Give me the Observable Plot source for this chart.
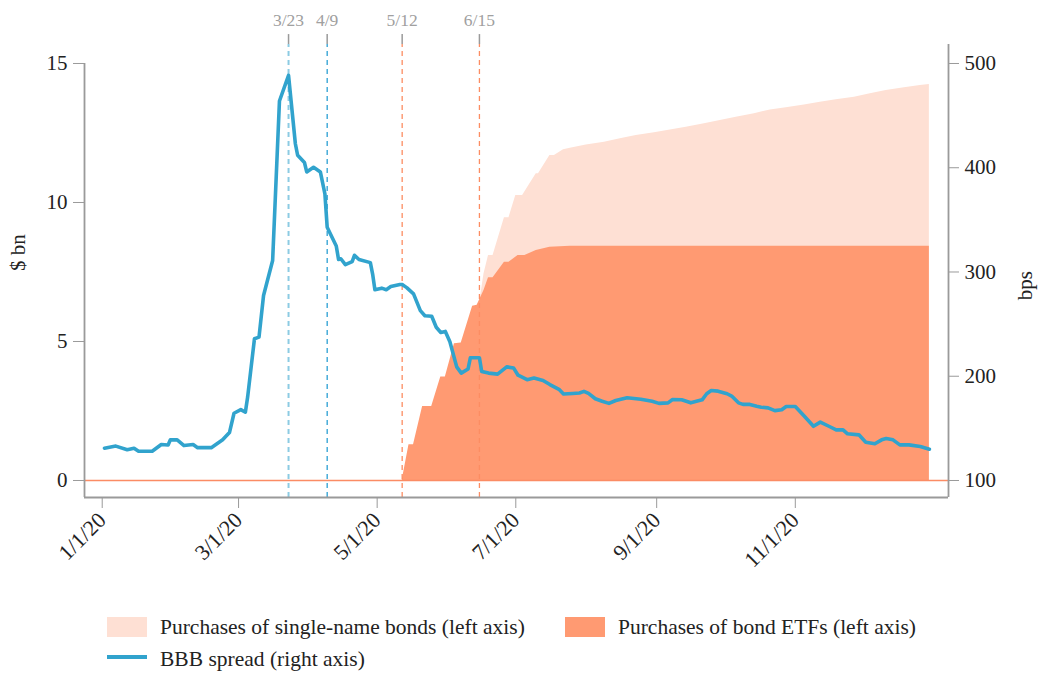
<!DOCTYPE html>
<html>
<head>
<meta charset="utf-8">
<script src="https://cdn.jsdelivr.net/npm/d3@7"></script>
<script src="https://cdn.jsdelivr.net/npm/@observablehq/plot@0.6"></script>
<style>
  html, body { margin: 0; padding: 0; background: #fff; }
  #wrap { position: relative; width: 1040px; height: 673px; font-family: "Liberation Serif", "DejaVu Serif", serif; color: #222; }
  .sw { position: absolute; }
  .lt { position: absolute; font-size: 21.5px; line-height: 24px; white-space: nowrap; color: #222; }
</style>
</head>
<body>
<div id="wrap"></div>
<script>
// ---- Data ----
const spreadDates = ["2020-01-02","2020-01-07","2020-01-12","2020-01-15","2020-01-17","2020-01-23","2020-01-27","2020-01-30","2020-01-31","2020-02-03","2020-02-06","2020-02-10","2020-02-12","2020-02-18","2020-02-23","2020-02-26","2020-02-28","2020-03-02","2020-03-04","2020-03-05","2020-03-08","2020-03-10","2020-03-12","2020-03-16","2020-03-17","2020-03-19","2020-03-23","2020-03-26","2020-03-27","2020-03-30","2020-03-31","2020-04-03","2020-04-06","2020-04-08","2020-04-09","2020-04-13","2020-04-14","2020-04-15","2020-04-17","2020-04-20","2020-04-21","2020-04-23","2020-04-28","2020-04-29","2020-04-30","2020-05-03","2020-05-05","2020-05-07","2020-05-11","2020-05-12","2020-05-14","2020-05-17","2020-05-20","2020-05-22","2020-05-25","2020-05-27","2020-05-29","2020-05-31","2020-06-02","2020-06-05","2020-06-07","2020-06-10","2020-06-11","2020-06-15","2020-06-16","2020-06-19","2020-06-23","2020-06-27","2020-06-30","2020-07-02","2020-07-06","2020-07-09","2020-07-13","2020-07-16","2020-07-20","2020-07-22","2020-07-26","2020-07-29","2020-07-31","2020-08-02","2020-08-05","2020-08-08","2020-08-11","2020-08-14","2020-08-19","2020-08-25","2020-08-30","2020-09-02","2020-09-06","2020-09-08","2020-09-12","2020-09-16","2020-09-21","2020-09-23","2020-09-25","2020-09-28","2020-10-02","2020-10-04","2020-10-07","2020-10-09","2020-10-12","2020-10-15","2020-10-17","2020-10-20","2020-10-23","2020-10-26","2020-10-28","2020-11-01","2020-11-05","2020-11-09","2020-11-12","2020-11-16","2020-11-19","2020-11-22","2020-11-24","2020-11-29","2020-12-02","2020-12-06","2020-12-09","2020-12-11","2020-12-14","2020-12-17","2020-12-21","2020-12-26","2020-12-30"];
const spreadBps = [131,133,129.5,131,128,128,134.5,134,139,139,133.5,134.5,131.5,131.5,139,146,164.5,168,165.5,180,236,237.5,277.5,311,362,464,488.5,423,412,405,396,400.5,396,375,343,325,312,312.7,307,310,316,312,309,298,283,284.5,283,286,288,288,285,279,263,258,257.5,247,242,243,233,209,203,207,217.7,217.7,204.6,203,202,209,208,201,196.7,198.3,196,192,187.5,183,183.5,184,185.5,183.5,178.4,176,174,176.7,179.3,178,176,174,174.5,177.7,177.4,174.5,177.4,183.2,186.3,185.7,183.2,181,174.5,173,173,171.3,170.3,169.7,167,167.8,171,171,161.7,152,156,151.8,148.6,148.6,144.8,143.8,136.7,135.2,139,140.3,139,134.2,134.2,132.6,130];

// Cumulative purchases of bond ETFs ($ bn)
const etfDates = ["2020-05-12","2020-05-15","2020-05-17","2020-05-21","2020-05-25","2020-05-29","2020-05-31","2020-06-04","2020-06-07","2020-06-12","2020-06-14","2020-06-17","2020-06-19","2020-06-21","2020-06-26","2020-06-28","2020-07-02","2020-07-05","2020-07-10","2020-07-16","2020-07-25","2020-12-30"];
const etfValues = [0,1.29,1.29,2.66,2.66,3.72,3.72,4.92,4.95,6.27,6.3,6.83,7.29,7.29,7.85,7.85,8.09,8.09,8.27,8.39,8.43,8.43];

// Cumulative total purchases: bond ETFs + single-name bonds ($ bn)
const totalDates = ["2020-06-15","2020-06-17","2020-06-19","2020-06-21","2020-06-26","2020-06-28","2020-07-01","2020-07-04","2020-07-10","2020-07-11","2020-07-16","2020-07-18","2020-07-22","2020-07-25","2020-08-01","2020-08-09","2020-08-16","2020-08-23","2020-08-31","2020-09-07","2020-09-14","2020-09-22","2020-09-29","2020-10-06","2020-10-14","2020-10-21","2020-10-28","2020-11-05","2020-11-12","2020-11-19","2020-11-27","2020-12-04","2020-12-11","2020-12-19","2020-12-26","2020-12-30"];
const totalValues = [6.35,7.43,8.09,8.09,9.45,9.45,10.25,10.25,11.03,11.03,11.69,11.69,11.9,11.95,12.07,12.17,12.29,12.41,12.51,12.61,12.71,12.83,12.95,13.07,13.19,13.33,13.41,13.51,13.61,13.70,13.79,13.91,14.03,14.13,14.21,14.24];

// Event markers
const eventDates = ["2020-03-23","2020-04-09","2020-05-12","2020-06-15"];
const eventLabels = ["3/23","4/9","5/12","6/15"];
const eventColors = ["#8ccbe3","#2a9fd3","#fc8d62","#fc8d62"];
const eventWidths = [2,1.3,1.3,1.3];

const leftTicks = [0,5,10,15];
const rightTicks = [100,200,300,400,500];
const xTickDates = ["2020-01-01","2020-03-01","2020-05-01","2020-07-01","2020-09-01","2020-11-01"];

// ---- Build tables ----
const parse = s => new Date(s + "T00:00:00Z");
const spread = spreadDates.map((d,i) => ({date: parse(d), bps: spreadBps[i]}));
const etf = etfDates.map((d,i) => ({date: parse(d), v: etfValues[i]}));
const total = totalDates.map((d,i) => ({date: parse(d), v: totalValues[i]}));
const events = eventDates.map((d,i) => ({date: parse(d), label: eventLabels[i], color: eventColors[i], w: eventWidths[i]}));

// right axis (bps) mapped onto left axis ($ bn): 100 bps <-> 0, 500 bps <-> 15
const toLeft = b => (b - 100) * 15 / 400;

const xDomain = [new Date("2019-12-24T05:00:00Z"), new Date("2021-01-07T10:00:00Z")];
const yLo = -0.6115, yHi = 15.683;
const gray = "#9a9a9a";
const font = "Liberation Serif, DejaVu Serif, serif";

const chart = Plot.plot({
  width: 1040,
  height: 600,
  marginLeft: 84,
  marginRight: 92,
  marginTop: 44,
  marginBottom: 103,
  style: {fontFamily: font, fontSize: "21px", color: "#222", background: "transparent", overflow: "visible"},
  x: {type: "utc", domain: xDomain, axis: null},
  y: {domain: [yLo, yHi], axis: null},
  marks: [
    Plot.areaY(total, {x: "date", y: "v", fill: "#fee0d4"}),
    Plot.areaY(etf, {x: "date", y: "v", fill: "#ff9a72"}),
    Plot.ruleY([0], {stroke: "#fb8c64", strokeWidth: 1.6}),
    Plot.ruleX(events, {x: "date", y1: yLo, y2: yHi, stroke: "color", strokeWidth: "w", strokeDasharray: "5,4"}),
    Plot.ruleX(events, {x: "date", y1: yHi, y2: 16.04, stroke: gray, strokeWidth: 1.5}),
    Plot.text(events, {x: "date", y: 16.04, dy: -14, text: "label", fill: "#a0a0a0", fontSize: 17.5, textAnchor: "middle", fontFamily: font}),
    Plot.line(spread, {x: "date", y: d => toLeft(d.bps), stroke: "#31a3cd", strokeWidth: 3.6, strokeLinejoin: "round", strokeLinecap: "round"}),
    // frame lines
    Plot.ruleY([yLo], {stroke: gray, strokeWidth: 1.8}),
    Plot.ruleX([xDomain[0]], {y1: yLo, y2: 15, stroke: gray, strokeWidth: 1.8}),
    Plot.ruleX([xDomain[1]], {y1: yLo, y2: yHi, stroke: gray, strokeWidth: 1.8}),
    // axes
    Plot.axisY(leftTicks, {anchor: "left", tickSize: 11, tickPadding: 6, stroke: gray, fill: "#222", fontSize: 21, fontFamily: font, label: null}),
    Plot.axisY(rightTicks.map(toLeft), {anchor: "right", tickSize: 10, tickPadding: 6, stroke: gray, fill: "#222", fontSize: 21, fontFamily: font, tickFormat: v => String(Math.round(v * 400 / 15 + 100)), label: null}),
    Plot.axisX(xTickDates.map(parse), {anchor: "bottom", tickSize: 11, tickPadding: 8, tickRotate: -45, stroke: gray, fill: "#222", fontSize: 22, fontFamily: font, tickFormat: d3.utcFormat("%-m/%-d/%y"), label: null}),
    // axis titles
    Plot.text(["$ bn"], {frameAnchor: "left", dx: -66, rotate: -90, fontSize: 21, fontFamily: font, fill: "#222"}),
    Plot.text(["bps"], {frameAnchor: "right", dx: 77, rotate: -90, fontSize: 21, fontFamily: font, fill: "#222"})
  ]
});

const wrap = document.getElementById("wrap");
chart.style.position = "absolute";
chart.style.left = "0px";
chart.style.top = "0px";
wrap.appendChild(chart);

// legend
function addSwatch(left, top, w, h, color) {
  const s = document.createElement("div");
  s.className = "sw";
  Object.assign(s.style, {left: left + "px", top: top + "px", width: w + "px", height: h + "px", background: color});
  wrap.appendChild(s);
}
function addLabel(left, top, txt) {
  const t = document.createElement("div");
  t.className = "lt";
  Object.assign(t.style, {left: left + "px", top: top + "px"});
  t.textContent = txt;
  wrap.appendChild(t);
}
addSwatch(107, 617, 40, 20, "#fee0d4");
addLabel(160, 615, "Purchases of single-name bonds (left axis)");
addSwatch(565, 617, 40, 20, "#ff9a72");
addLabel(618, 615, "Purchases of bond ETFs (left axis)");
addSwatch(107, 655, 40, 4, "#31a3cd");
addLabel(160, 647, "BBB spread (right axis)");
</script>
</body>
</html>
